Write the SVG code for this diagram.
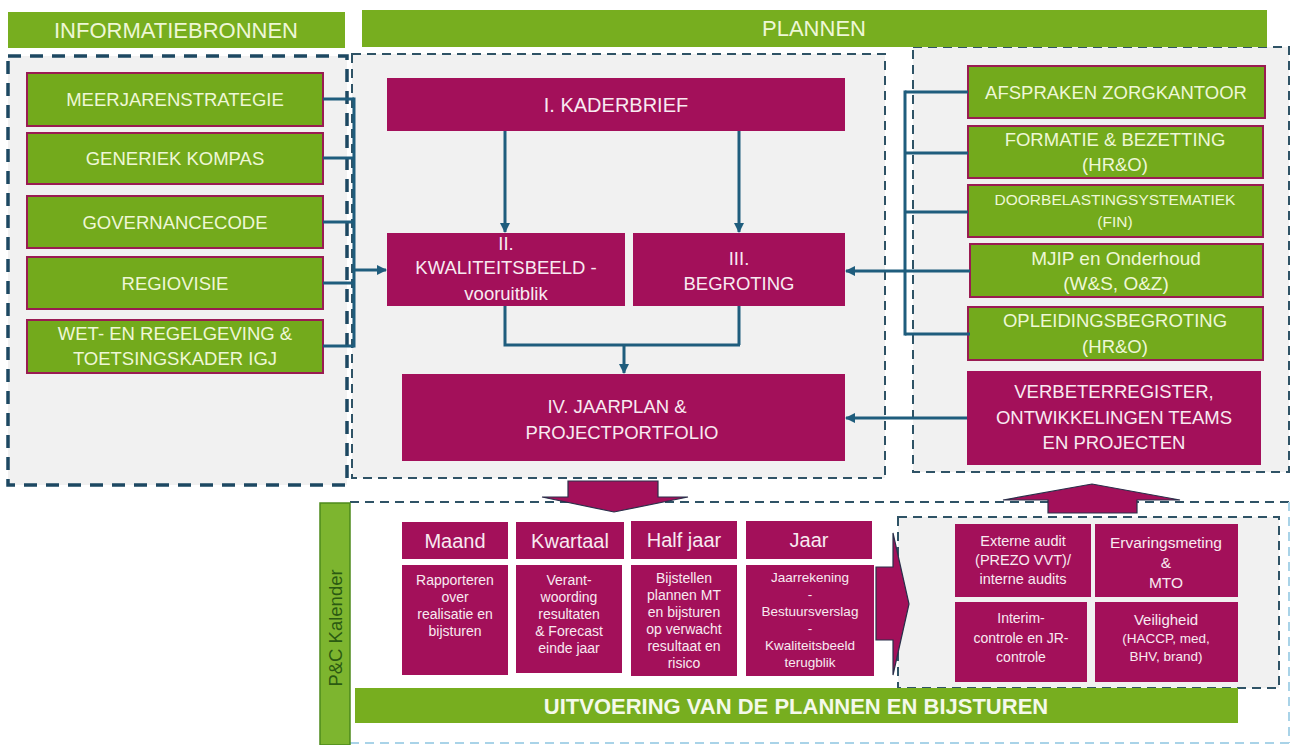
<svg xmlns="http://www.w3.org/2000/svg" width="1291" height="745" viewBox="0 0 1291 745">
<defs>
<style>
.bg{fill:#ffffff}
.cont{fill:#f1f1f1}
.dashH{fill:none;stroke:#1d4862;stroke-width:3.5;stroke-dasharray:13 9}
.dashT{fill:none;stroke:#2f5366;stroke-width:2;stroke-dasharray:9 6}
.dashL{fill:none;stroke:#a9d3e8;stroke-width:2;stroke-dasharray:9 6}
.bar{fill:#77ae1f}
.gbox{fill:#73aa1c;stroke:#9a1c52;stroke-width:2}
.mbox{fill:#a3105a}
.t{font-family:"Liberation Sans",Arial,sans-serif;text-anchor:middle}
.tg{fill:#eef7d6}
.tm{fill:#f8eaf1}
.conn{fill:none;stroke:#1f5d7d;stroke-width:3}
.blk{fill:#a3105a;stroke:#2a2f4a;stroke-width:1.2}
</style>
<marker id="ah" viewBox="0 0 10 10" refX="9" refY="5" markerWidth="3.4" markerHeight="3.4" orient="auto" markerUnits="strokeWidth">
<path d="M0,0 L10,5 L0,10 z" fill="#1f5d7d"/>
</marker>
</defs>
<rect class="bg" x="0" y="0" width="1291" height="745"/>

<!-- containers -->
<g id="container-left">
<rect class="cont" x="8" y="56" width="339" height="429"/>
<rect class="dashH" x="8" y="56" width="339" height="429"/>
</g>
<g id="container-middle">
<rect class="cont" x="352" y="54" width="533" height="424"/>
<rect class="dashT" x="352" y="54" width="533" height="424"/>
</g>
<g id="container-right">
<rect class="cont" x="913" y="47" width="376" height="425"/>
<rect class="dashT" x="913" y="47" width="376" height="425"/>
</g>
<g id="container-bottom">
<rect x="350" y="502" width="940" height="241" fill="#ffffff"/>
<line class="dashT" x1="350" y1="502" x2="1290" y2="502"/>
<line class="dashL" x1="350" y1="743" x2="1290" y2="743"/>
<line class="dashL" x1="1289" y1="502" x2="1289" y2="743"/>
</g>
<g id="container-checks">
<rect class="cont" x="898" y="517" width="381" height="171"/>
<rect class="dashT" x="898" y="517" width="381" height="171"/>
</g>

<!-- headers -->
<g id="hdr-info">
<rect class="bar" x="8" y="12" width="337" height="36"/>
<text class="t tg" x="176" y="38" font-size="22">INFORMATIEBRONNEN</text>
</g>
<g id="hdr-plannen">
<rect class="bar" x="362" y="10" width="905" height="37"/>
<text class="t tg" x="814" y="35.5" font-size="22">PLANNEN</text>
</g>

<!-- left sources -->
<g id="src-meerjarenstrategie">
<rect class="gbox" x="27" y="73" width="296" height="53"/>
<text class="t tg" x="175" y="106" font-size="18.5">MEERJARENSTRATEGIE</text>
</g>
<g id="src-generiek-kompas">
<rect class="gbox" x="27" y="133" width="296" height="51"/>
<text class="t tg" x="175" y="165" font-size="18.5">GENERIEK KOMPAS</text>
</g>
<g id="src-governancecode">
<rect class="gbox" x="27" y="196" width="296" height="52"/>
<text class="t tg" x="175" y="228.5" font-size="18.5">GOVERNANCECODE</text>
</g>
<g id="src-regiovisie">
<rect class="gbox" x="27" y="257" width="296" height="52"/>
<text class="t tg" x="175" y="289.5" font-size="18.5">REGIOVISIE</text>
</g>
<g id="src-wet">
<rect class="gbox" x="27" y="320" width="296" height="53"/>
<text class="t tg" x="175" y="340" font-size="18.5">WET- EN REGELGEVING &amp;</text>
<text class="t tg" x="175" y="365" font-size="18.5">TOETSINGSKADER IGJ</text>
</g>

<!-- plans -->
<g id="plan-kaderbrief">
<rect class="mbox" x="387" y="78" width="458" height="53"/>
<text class="t tm" x="616" y="112" font-size="20">I. KADERBRIEF</text>
</g>
<g id="plan-kwaliteitsbeeld">
<rect class="mbox" x="387" y="233" width="238" height="73"/>
<text class="t tm" x="506" y="250" font-size="18.5">II.</text>
<text class="t tm" x="506" y="274" font-size="18.5">KWALITEITSBEELD -</text>
<text class="t tm" x="506" y="300" font-size="18.5">vooruitblik</text>
</g>
<g id="plan-begroting">
<rect class="mbox" x="633" y="233" width="212" height="73"/>
<text class="t tm" x="739" y="265" font-size="18.5">III.</text>
<text class="t tm" x="739" y="290" font-size="18.5">BEGROTING</text>
</g>
<g id="plan-jaarplan">
<rect class="mbox" x="402" y="374" width="443" height="87"/>
<text class="t tm" x="617" y="413" font-size="18.5">IV. JAARPLAN &amp;</text>
<text class="t tm" x="622" y="439" font-size="18.5">PROJECTPORTFOLIO</text>
</g>

<!-- right inputs -->
<g id="in-zorgkantoor">
<rect class="gbox" x="968" y="66" width="297" height="52"/>
<text class="t tg" x="1116" y="98.5" font-size="18.5">AFSPRAKEN ZORGKANTOOR</text>
</g>
<g id="in-formatie">
<rect class="gbox" x="968" y="126" width="295" height="52"/>
<text class="t tg" x="1115" y="146" font-size="18.5">FORMATIE &amp; BEZETTING</text>
<text class="t tg" x="1115" y="170.5" font-size="18.5">(HR&amp;O)</text>
</g>
<g id="in-doorbelasting">
<rect class="gbox" x="968" y="185" width="295" height="52"/>
<text class="t tg" x="1115" y="205" font-size="15.5">DOORBELASTINGSYSTEMATIEK</text>
<text class="t tg" x="1115" y="227" font-size="15.5">(FIN)</text>
</g>
<g id="in-mjip">
<rect class="gbox" x="970" y="244" width="293" height="53"/>
<text class="t tg" x="1116" y="264.5" font-size="19">MJIP en Onderhoud</text>
<text class="t tg" x="1116" y="289.5" font-size="19">(W&amp;S, O&amp;Z)</text>
</g>
<g id="in-opleiding">
<rect class="gbox" x="968" y="307" width="295" height="53"/>
<text class="t tg" x="1115" y="327" font-size="18.5">OPLEIDINGSBEGROTING</text>
<text class="t tg" x="1115" y="352.5" font-size="18.5">(HR&amp;O)</text>
</g>
<g id="in-verbeter">
<rect class="mbox" x="967" y="371" width="294" height="94"/>
<text class="t tm" x="1114" y="397.5" font-size="18.5">VERBETERREGISTER,</text>
<text class="t tm" x="1114" y="423.5" font-size="18.5">ONTWIKKELINGEN TEAMS</text>
<text class="t tm" x="1114" y="448.5" font-size="18.5">EN PROJECTEN</text>
</g>

<!-- P&C calendar -->
<g id="pc-kalender">
<rect x="320" y="503" width="30" height="242" fill="#7db52f" stroke="#4d8a1d" stroke-width="1.5"/>
<text class="t" x="0" y="0" font-size="18.5" fill="#2b5a12" transform="translate(341.5,628) rotate(-90)">P&amp;C Kalender</text>
</g>

<g id="period-maand">
<rect class="mbox" x="402" y="522" width="106" height="37"/>
<text class="t tm" x="455" y="547.5" font-size="20">Maand</text>
<rect class="mbox" x="402" y="565" width="106" height="110"/>
<text class="t tm" x="455" y="585" font-size="14">Rapporteren</text>
<text class="t tm" x="455" y="602" font-size="14">over</text>
<text class="t tm" x="455" y="619" font-size="14">realisatie en</text>
<text class="t tm" x="455" y="636" font-size="14">bijsturen</text>
</g>
<g id="period-kwartaal">
<rect class="mbox" x="516" y="522" width="108" height="37"/>
<text class="t tm" x="570" y="547.5" font-size="20">Kwartaal</text>
<rect class="mbox" x="516" y="565" width="106" height="108"/>
<text class="t tm" x="569" y="585" font-size="14">Verant-</text>
<text class="t tm" x="569" y="602" font-size="14">woording</text>
<text class="t tm" x="569" y="619" font-size="14">resultaten</text>
<text class="t tm" x="569" y="636" font-size="14">&amp; Forecast</text>
<text class="t tm" x="569" y="653" font-size="14">einde jaar</text>
</g>
<g id="period-halfjaar">
<rect class="mbox" x="631" y="521" width="106" height="38"/>
<text class="t tm" x="684" y="547" font-size="20">Half jaar</text>
<rect class="mbox" x="631" y="565" width="106" height="111"/>
<text class="t tm" x="684" y="583" font-size="14">Bijstellen</text>
<text class="t tm" x="684" y="600" font-size="14">plannen MT</text>
<text class="t tm" x="684" y="617" font-size="14">en bijsturen</text>
<text class="t tm" x="684" y="634" font-size="14">op verwacht</text>
<text class="t tm" x="684" y="651" font-size="14">resultaat en</text>
<text class="t tm" x="684" y="668" font-size="14">risico</text>
</g>
<g id="period-jaar">
<rect class="mbox" x="746" y="521" width="126" height="38"/>
<text class="t tm" x="809" y="547" font-size="20">Jaar</text>
<rect class="mbox" x="746" y="565" width="128" height="111"/>
<text class="t tm" x="810" y="582" font-size="13.5">Jaarrekening</text>
<text class="t tm" x="810" y="599" font-size="13.5">-</text>
<text class="t tm" x="810" y="616" font-size="13.5">Bestuursverslag</text>
<text class="t tm" x="810" y="633" font-size="13.5">-</text>
<text class="t tm" x="810" y="650" font-size="13.5">Kwaliteitsbeeld</text>
<text class="t tm" x="810" y="667" font-size="13.5">terugblik</text>
</g>

<g id="check-extern">
<rect class="mbox" x="955" y="524" width="136" height="73"/>
<text class="t tm" x="1023" y="546" font-size="14.5">Externe audit</text>
<text class="t tm" x="1023" y="565" font-size="14.5">(PREZO VVT)/</text>
<text class="t tm" x="1023" y="584" font-size="14.5">interne audits</text>
</g>
<g id="check-ervaring">
<rect class="mbox" x="1095" y="524" width="143" height="73"/>
<text class="t tm" x="1166" y="548" font-size="15.5">Ervaringsmeting</text>
<text class="t tm" x="1166" y="568" font-size="15.5">&amp;</text>
<text class="t tm" x="1166" y="588" font-size="15.5">MTO</text>
</g>
<g id="check-interim">
<rect class="mbox" x="955" y="602" width="132" height="80"/>
<text class="t tm" x="1021" y="623" font-size="14">Interim-</text>
<text class="t tm" x="1021" y="643" font-size="14">controle en JR-</text>
<text class="t tm" x="1021" y="662" font-size="14">controle</text>
</g>
<g id="check-veiligheid">
<rect class="mbox" x="1095" y="602" width="143" height="80"/>
<text class="t tm" x="1166" y="625" font-size="15">Veiligheid</text>
<text class="t tm" x="1166" y="642.5" font-size="13.5">(HACCP, med,</text>
<text class="t tm" x="1166" y="660.5" font-size="13.5">BHV, brand)</text>
</g>

<g id="uitvoering">
<rect class="bar" x="355" y="688" width="883" height="35"/>
<text class="t" x="796" y="713.5" font-size="22" font-weight="bold" fill="#f4f9ea">UITVOERING VAN DE PLANNEN EN BIJSTUREN</text>
</g>

<!-- connectors -->
<g id="connectors">
<polyline class="conn" points="323,99 354,99"/>
<polyline class="conn" points="323,158 354,158"/>
<polyline class="conn" points="323,222 354,222"/>
<polyline class="conn" points="323,283 354,283"/>
<polyline class="conn" points="323,346 354,346"/>
<line class="conn" x1="354" y1="97.5" x2="354" y2="347.5"/>
<line class="conn" x1="354" y1="270" x2="386" y2="270" marker-end="url(#ah)"/>

<line class="conn" x1="505" y1="131" x2="505" y2="232" marker-end="url(#ah)"/>
<line class="conn" x1="739" y1="131" x2="739" y2="232" marker-end="url(#ah)"/>
<polyline class="conn" points="505,306 505,345 740,345"/>
<line class="conn" x1="739" y1="306" x2="739" y2="345"/>
<line class="conn" x1="624" y1="345" x2="624" y2="373" marker-end="url(#ah)"/>

<polyline class="conn" points="968,92 905,92"/>
<polyline class="conn" points="968,153 905,153"/>
<polyline class="conn" points="968,212 905,212"/>
<polyline class="conn" points="970,334 905,334"/>
<line class="conn" x1="905" y1="90.5" x2="905" y2="335.5"/>
<line class="conn" x1="970" y1="271" x2="905" y2="271"/>
<line class="conn" x1="905" y1="271" x2="846" y2="271" stroke-width="4" marker-end="url(#ah)"/>
<line class="conn" x1="967" y1="418" x2="846" y2="418" marker-end="url(#ah)"/>

<polygon class="blk" points="568,481 658,481 658,497 688,497 614,512 542,497 568,497"/>
<polygon class="blk" points="1048,513 1137,513 1137,500 1180,500 1092,484 1003,500 1048,500"/>
<polygon class="blk" points="876,567 893,567 893,533 909,604 893,675 893,640 876,640"/>
</g>
</svg>
